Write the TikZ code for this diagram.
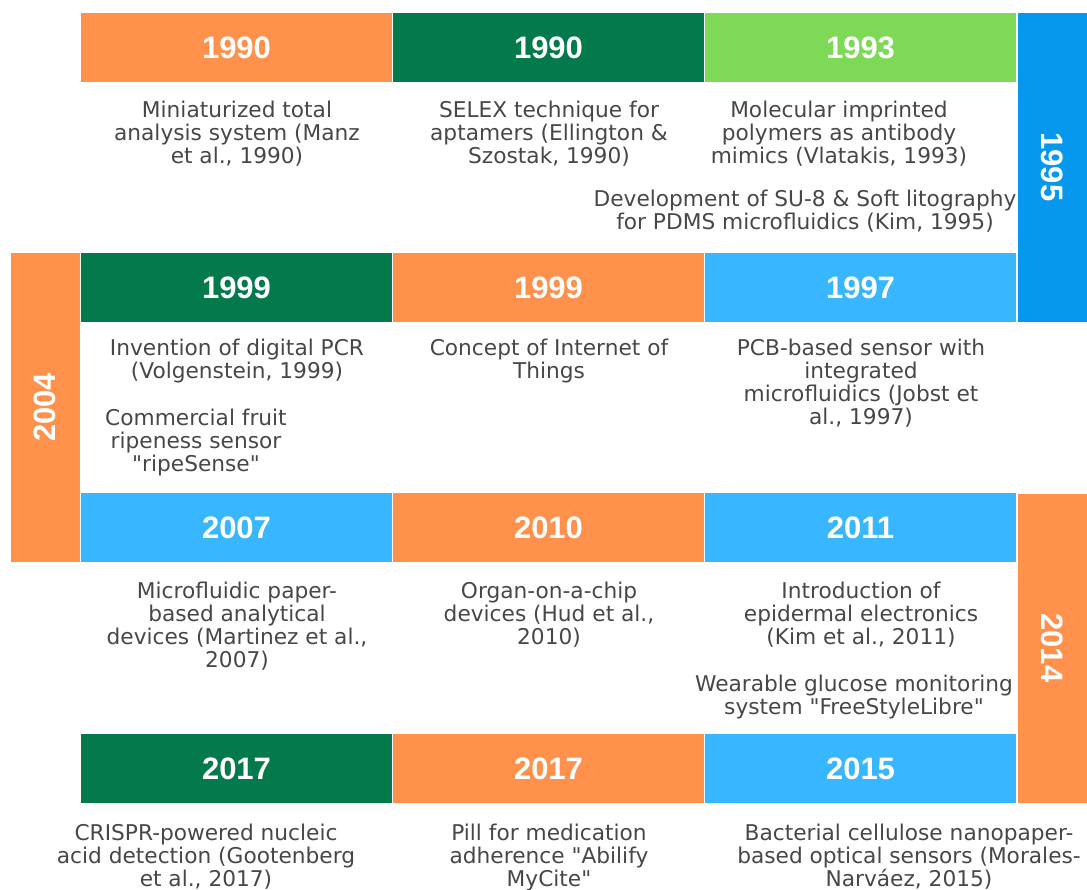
\documentclass[tikz,border=0pt]{standalone}
\usepackage{fontspec}
\setmainfont{Liberation Sans}
\newfontfamily\descfont{DejaVu Sans}[Ligatures=TeXOff]
\definecolor{orng}{HTML}{FF914D}
\definecolor{dgreen}{HTML}{047A4C}
\definecolor{lgreen}{HTML}{7ED957}
\definecolor{lblue}{HTML}{38B6FF}
\definecolor{dblue}{HTML}{0598EE}
\definecolor{txt}{HTML}{474747}
\tikzset{
  bar/.style={draw=white, line width=0.8pt, inner sep=0pt, outer sep=0pt, minimum width=312pt, minimum height=70pt,
    text=white, font=\fontsize{31}{32}\selectfont\bfseries},
  vbar/.style={draw=white, line width=0.8pt, inner sep=0pt, outer sep=0pt, minimum width=310pt, minimum height=70pt,
    text=white, font=\fontsize{31}{32}\selectfont\bfseries},
  desc/.style={align=center, text=txt, inner sep=0pt, font=\descfont\fontsize{21.7}{23}\selectfont, anchor=north}
}
\begin{document}
\begin{tikzpicture}[x=1pt,y=-1pt]
\useasboundingbox (0,0) rectangle (1087,890);
% row 1
\node[bar, fill=orng]   (b11) at (236.5,47.5) {1990};
\node[bar, fill=dgreen] (b12) at (548.5,47.5) {1990};
\node[bar, fill=lgreen] (b13) at (860.5,47.5) {1993};
\node[vbar, fill=dblue, rotate=-90] (v1) at (1052.5,167) {1995};
% row 2
\node[bar, fill=dgreen] (b21) at (236.5,287.5) {1999};
\node[bar, fill=orng]   (b22) at (548.5,287.5) {1999};
\node[bar, fill=lblue]  (b23) at (860.5,287.5) {1997};
\node[vbar, fill=orng, rotate=90] (v2) at (45,407.5) {2004};
% row 3
\node[bar, fill=lblue]  (b31) at (236.5,527.5) {2007};
\node[bar, fill=orng]   (b32) at (548.5,527.5) {2010};
\node[bar, fill=lblue]  (b33) at (860.5,527.5) {2011};
\node[vbar, fill=orng, rotate=-90] (v3) at (1052.5,648) {2014};
% row 4
\node[bar, fill=dgreen] (b41) at (236.5,768.5) {2017};
\node[bar, fill=orng]   (b42) at (548.5,768.5) {2017};
\node[bar, fill=lblue]  (b43) at (860.5,768.5) {2015};
% descriptions
\node[desc] (t11) at (237,101) {Miniaturized total\\analysis system (Manz\\et al., 1990)};
\node[desc] (t12) at (549,101) {SELEX technique for\\aptamers (Ellington \&\\Szostak, 1990)};
\node[desc] (t13) at (839,101) {Molecular imprinted\\polymers as antibody\\mimics (Vlatakis, 1993)};
\node[desc] (t14) at (805,190) {Development of SU-8 \& Soft litography\\for PDMS microfluidics (Kim, 1995)};
\node[desc] (t21) at (237,339) {Invention of digital PCR\\(Volgenstein, 1999)};
\node[desc] (t22) at (196,409) {Commercial fruit\\ripeness sensor\\"ripeSense"};
\node[desc] (t23) at (549,339) {Concept of Internet of\\Things};
\node[desc] (t24) at (861,339) {PCB-based sensor with\\integrated\\microfluidics (Jobst et\\al., 1997)};
\node[desc] (t31) at (237,582) {Microfluidic paper-\\based analytical\\devices (Martinez et al.,\\2007)};
\node[desc] (t32) at (549,582) {Organ-on-a-chip\\devices (Hud et al.,\\2010)};
\node[desc] (t33) at (861,582) {Introduction of\\epidermal electronics\\(Kim et al., 2011)};
\node[desc] (t34) at (854,675) {Wearable glucose monitoring\\system "FreeStyleLibre"};
\node[desc] (t41) at (206,824) {CRISPR-powered nucleic\\acid detection (Gootenberg\\et al., 2017)};
\node[desc] (t42) at (549,824) {Pill for medication\\adherence "Abilify\\MyCite"};
\node[desc] (t43) at (909,824) {Bacterial cellulose nanopaper-\\based optical sensors (Morales-\\Narváez, 2015)};
\end{tikzpicture}
\end{document}
